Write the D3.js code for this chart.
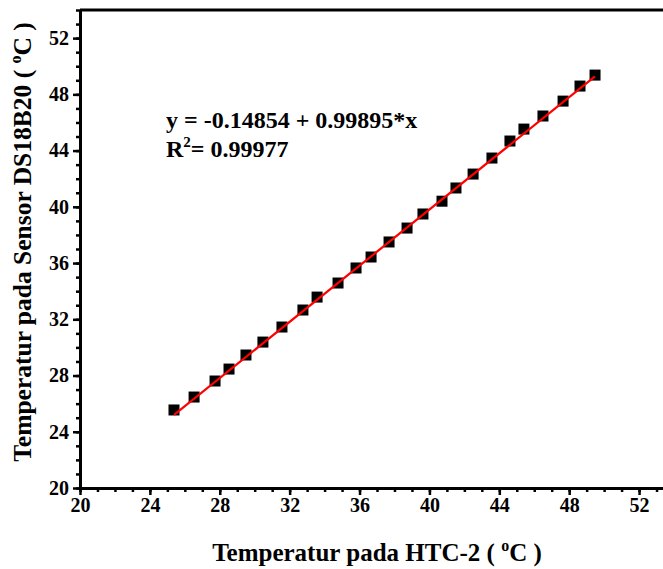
<!DOCTYPE html>
<html>
<head>
<meta charset="utf-8">
<script src="https://cdn.jsdelivr.net/npm/d3@7"></script>
<style>
  body { margin: 0; background: #fff; }
  svg { display: block; font-family: "Liberation Serif", "Times New Roman", serif; font-weight: bold; }
</style>
</head>
<body>
<svg id="chart" width="663" height="569"></svg>
<script>
'use strict';

// readings: HTC-2 reference vs DS18B20 sensor
var htcTemps = [25.38, 26.53, 27.73, 28.53, 29.50, 30.47, 31.56, 32.76, 33.57, 34.77,
                35.80, 36.66, 37.69, 38.72, 39.63, 40.72, 41.52, 42.50, 43.58, 44.61,
                45.41, 46.50, 47.65, 48.62, 49.48];
var dsTemps  = [25.55, 26.47, 27.61, 28.46, 29.46, 30.38, 31.45, 32.66, 33.58, 34.58,
                35.65, 36.43, 37.50, 38.49, 39.49, 40.40, 41.34, 42.33, 43.47, 44.68,
                45.53, 46.46, 47.52, 48.59, 49.37];
var majorTicks = [20, 24, 28, 32, 36, 40, 44, 48, 52];
var fitIntercept = -0.14854;
var fitSlope = 0.99895;
var fitR2 = "0.99977";

var svg = d3.select("#chart");

var x = d3.scaleLinear().domain([20, 54]).range([80, 674]);
var y = d3.scaleLinear().domain([20, 54]).range([488, 10]);

var minorTicks = d3.range(20, 55, 1);

// minor ticks
svg.append("g")
   .attr("transform", "translate(0,488)")
   .call(d3.axisBottom(x).tickValues(minorTicks).tickSize(4).tickFormat(""))
   .call(function (g) { g.select(".domain").remove(); });
svg.append("g")
   .attr("transform", "translate(80,0)")
   .call(d3.axisLeft(y).tickValues(minorTicks).tickSize(4).tickFormat(""))
   .call(function (g) { g.select(".domain").remove(); });

// major ticks + labels
svg.append("g")
   .attr("transform", "translate(0,488)")
   .call(d3.axisBottom(x).tickValues(majorTicks).tickSize(7).tickPadding(3).tickSizeOuter(0));
svg.append("g")
   .attr("transform", "translate(80,0)")
   .call(d3.axisLeft(y).tickValues(majorTicks).tickSize(7).tickPadding(4).tickSizeOuter(0));

svg.selectAll(".tick line").attr("stroke", "#000").attr("stroke-width", 2.5);
svg.selectAll(".domain").attr("stroke", "#000").attr("stroke-width", 3);
svg.selectAll(".tick text")
   .attr("font-family", "Liberation Serif, Times New Roman, serif")
   .attr("font-weight", "bold")
   .attr("font-size", 20)
   .attr("fill", "#000");

// top frame line
svg.append("line")
   .attr("x1", x(20)).attr("x2", x(54))
   .attr("y1", y(54)).attr("y2", y(54))
   .attr("stroke", "#000").attr("stroke-width", 3);

// data points
svg.append("g").selectAll("rect")
   .data(htcTemps)
   .enter().append("rect")
   .attr("x", function (d) { return x(d) - 5.5; })
   .attr("y", function (d, i) { return y(dsTemps[i]) - 5.5; })
   .attr("width", 11)
   .attr("height", 11)
   .attr("fill", "#000");

// linear fit
var xMin = d3.min(htcTemps), xMax = d3.max(htcTemps);
svg.append("line")
   .attr("x1", x(xMin)).attr("y1", y(fitIntercept + fitSlope * xMin))
   .attr("x2", x(xMax)).attr("y2", y(fitIntercept + fitSlope * xMax))
   .attr("stroke", "#ff0000").attr("stroke-width", 2.2);

// equation
svg.append("text")
   .attr("x", 166).attr("y", 128)
   .attr("font-size", 24)
   .text("y = " + fitIntercept + " + " + fitSlope + "*x");
var r2 = svg.append("text").attr("x", 166).attr("y", 157).attr("font-size", 24);
r2.append("tspan").text("R");
r2.append("tspan").attr("font-size", 15).attr("dy", -10).text("2");
r2.append("tspan").attr("dy", 10).text("= " + fitR2);

// axis titles
var xt = svg.append("text")
   .attr("x", 377).attr("y", 561)
   .attr("text-anchor", "middle")
   .attr("font-size", 25);
xt.append("tspan").text("Temperatur pada HTC-2 ( ");
xt.append("tspan").attr("font-size", 16).attr("dy", -10).text("o");
xt.append("tspan").attr("dy", 10).text("C )");

var yt = svg.append("text")
   .attr("transform", "translate(31,242) rotate(-90)")
   .attr("text-anchor", "middle")
   .attr("font-size", 25.5);
yt.append("tspan").text("Temperatur pada Sensor DS18B20 ( ");
yt.append("tspan").attr("font-size", 16).attr("dy", -10).text("o");
yt.append("tspan").attr("dy", 10).text("C )");
</script>
</body>
</html>
